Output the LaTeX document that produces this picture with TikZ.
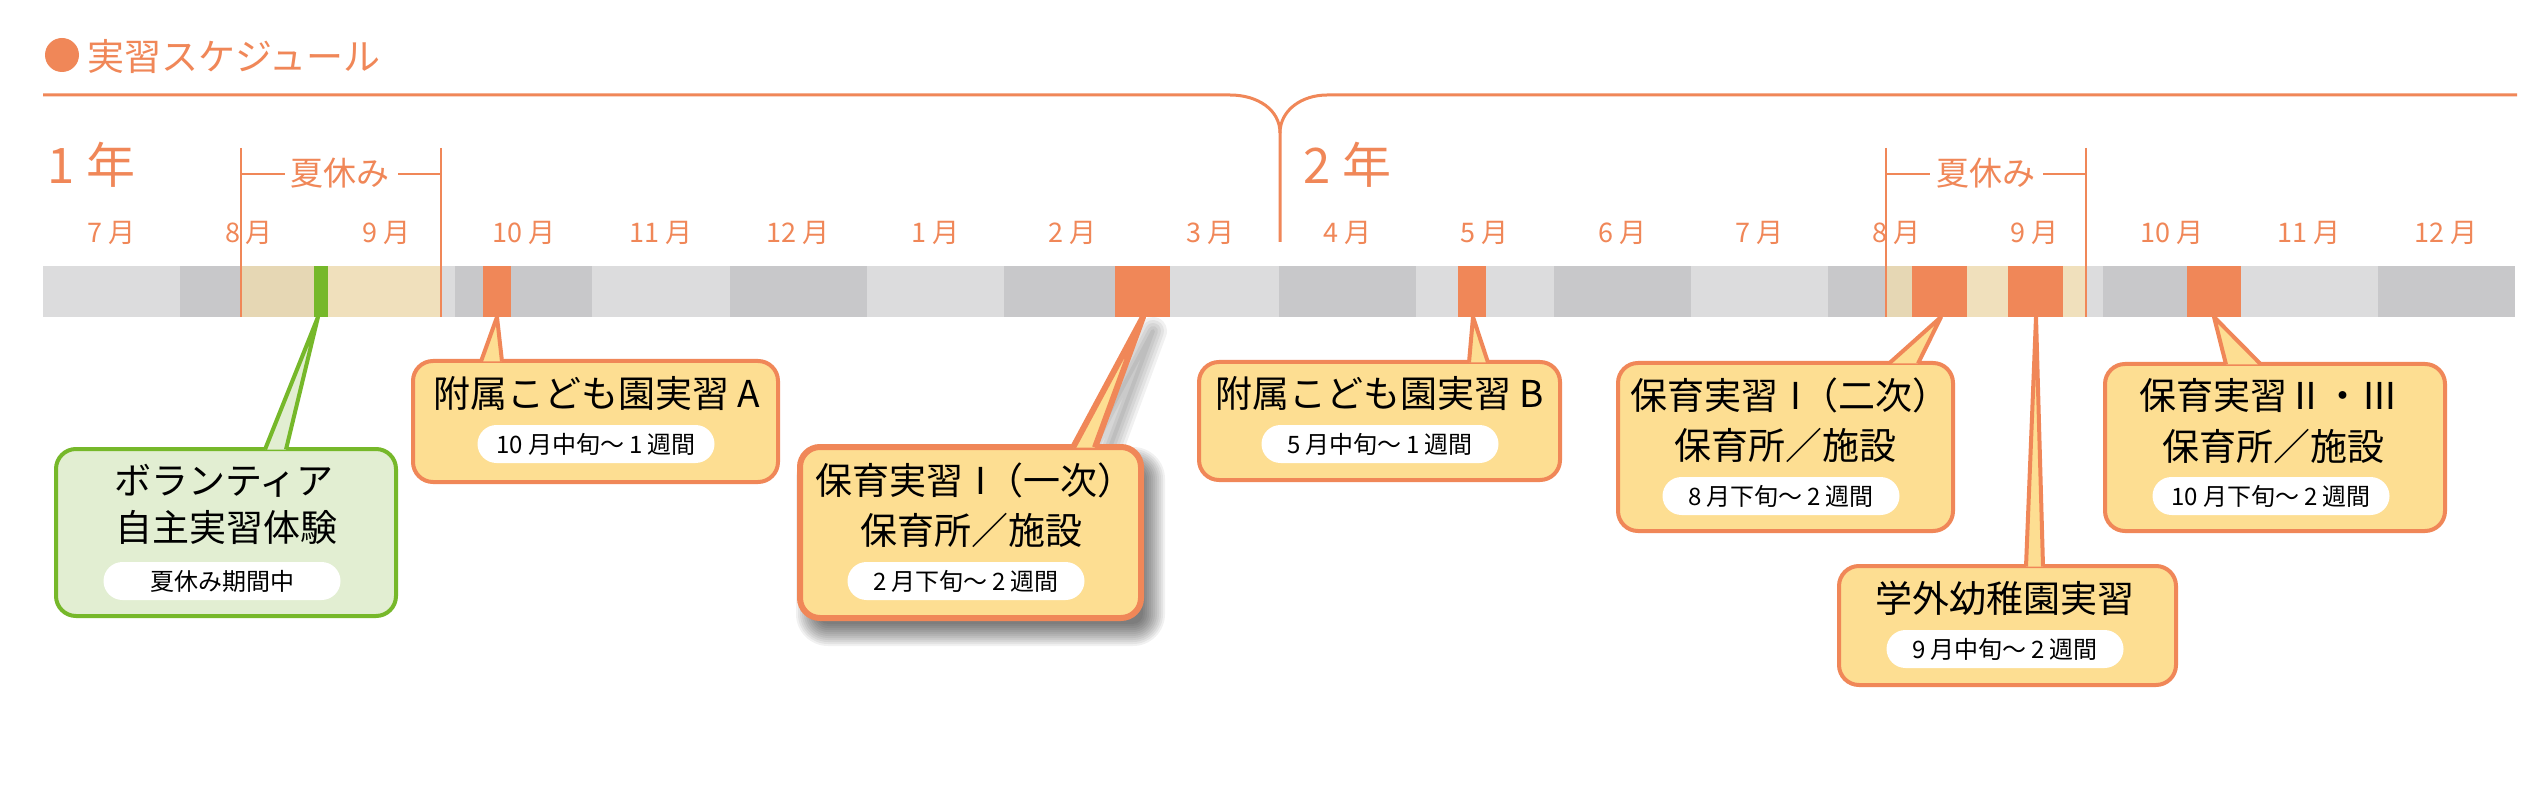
\documentclass[tikz,border=0pt]{standalone}
\usepackage{fontspec}
\setmainfont{Noto Sans CJK JP}
\definecolor{ora}{RGB}{240,135,88}
\definecolor{yel}{RGB}{253,222,146}
\definecolor{grn}{RGB}{118,184,42}
\definecolor{grnf}{RGB}{226,238,210}
\definecolor{gl}{RGB}{220,220,221}
\definecolor{gd}{RGB}{200,200,202}
\definecolor{tand}{RGB}{230,215,180}
\definecolor{tanl}{RGB}{240,224,188}
\newcommand\fs[1]{\fontsize{#1pt}{#1pt}\selectfont}
\newcommand\gp{\hspace{5pt}}
% #1 style prefix, #2 name, #3 L, #4 T, #5 R, #6 B, #7 tip x, #8 base left x, #9 base right x
\newcommand\callout[9]{%
  \node[#1box, minimum width={#5-#3-4}, minimum height={#6-#4-4}] (#2) at ({(#3+#5)/2},{(#4+#6)/2}) {};
  \coordinate (#2tip) at (#7,317);
  \coordinate (#2bl) at ({#8},{#4+2.5});
  \coordinate (#2br) at ({#9},{#4+2.5});
  \filldraw[#1tail] (#2bl) -- (#2tip) -- (#2br);
}
\begin{document}
\begin{tikzpicture}[x=1pt,y=-1pt,
  lbl/.style={text=ora, inner sep=0, font=\fs{27}},
  yrlbl/.style={text=ora, inner sep=0, anchor=west, font=\fs{49}},
  obox/.style={draw=ora, fill=yel, line width=4, rounded corners=20, inner sep=0},
  otail/.style={draw=ora, fill=yel, line width=4, line join=round},
  tbox/.style={draw=ora, fill=yel, line width=6, rounded corners=20, inner sep=0},
  ttail/.style={draw=ora, fill=yel, line width=6, line join=round},
  gbox/.style={draw=grn, fill=grnf, line width=4, rounded corners=20, inner sep=0},
  gtail/.style={draw=grn, fill=grnf, line width=4, line join=round},
  pill/.style={fill=white, rounded corners=19, minimum width=237, minimum height=38, inner sep=0, font=\fs{24}},
  big/.style={inner sep=0, font=\fs{37}},
  oline/.style={draw=ora, line width=3},
  thin/.style={draw=ora, line width=1.5},
  shdlayer/.style={fill=black, opacity=0.055},
  shdtail/.style={draw=black, opacity=0.055, line join=round},
]
\useasboundingbox (0,0) rectangle (2540,799);
\fill[white] (0,0) rectangle (2540,799);

% title
\node[circle, fill=ora, minimum size=34, inner sep=0] (dot) at (62,55) {};
\node[anchor=west, text=ora, inner sep=0, font=\fs{37}] (title) at (87,56) {実習スケジュール};

% year line with divider
\coordinate (l0) at (43,95);
\coordinate (l1) at (1230,95);
\coordinate (mid) at (1280,133);
\coordinate (midb) at (1280,242);
\coordinate (r1) at (1327,95);
\coordinate (r0) at (2517,95);
\draw[oline] (l0) -- (l1) .. controls (1258,95) and (1280,110) .. (mid) -- (midb);
\draw[oline] (mid) .. controls (1280,110) and (1302,95) .. (r1) -- (r0);
\node[yrlbl] (y1) at (47,165) {1\hspace{12pt}年};
\node[yrlbl] (y2) at (1303,165) {2\hspace{12pt}年};

% bar
\foreach \i in {0,...,17} {
  \pgfmathsetmacro\xa{43+137.33*\i}
  \pgfmathsetmacro\xb{43+137.33*(\i+1)}
  \pgfmathtruncatemacro\odd{mod(\i,2)}
  \ifnum\odd=0 \fill[gl] (\xa,266) rectangle (\xb,317); \else \fill[gd] (\xa,266) rectangle (\xb,317); \fi
}
\foreach \m [count=\i from 0] in {7,8,9,10,11,12,1,2,3,4,5,6,7,8,9,10,11,12}
  \node[lbl] (m\i) at ({43+137.33*(\i+0.5)},233) {\m\hspace{6pt}月};

% summer overlays
\fill[tand] (241,266) rectangle (317.7,317);
\fill[tanl] (317.7,266) rectangle (441,317);
\fill[tand] (1886,266) rectangle (1966,317);
\fill[tanl] (1966,266) rectangle (2086,317);

% markers
\fill[grn] (314,266) rectangle (328,317);
\fill[ora] (483,266) rectangle (511,317);
\fill[ora] (1115,266) rectangle (1170,317);
\fill[ora] (1458,266) rectangle (1486,317);
\fill[ora] (1912,266) rectangle (1967,317);
\fill[ora] (2008,266) rectangle (2063,317);
\fill[ora] (2187,266) rectangle (2241,317);

% summer brackets
\node[text=ora, inner sep=0, font=\fs{33}] (s1) at (340,173) {夏休み};
\draw[thin] (241,148) -- (241,317);
\draw[thin] (441,148) -- (441,317);
\draw[thin] (241,174) -- (285,174);
\draw[thin] (398,174) -- (441,174);
\node[text=ora, inner sep=0, font=\fs{33}] (s2) at (1986,173) {夏休み};
\draw[thin] (1886,148) -- (1886,317);
\draw[thin] (2086,148) -- (2086,317);
\draw[thin] (1886,174) -- (1930,174);
\draw[thin] (2043,174) -- (2086,174);

% soft shadow for the highlighted box
\foreach \d in {-10,-8,...,12}
  \fill[shdlayer, rounded corners={20+\d}] ({808-\d},{459-\d}) rectangle ({1153+\d},{634+\d});
\foreach \w in {4,10,16,22,28}
  \draw[shdtail, line width=\w] (1083,461) -- (1153,331) -- (1105,461) -- cycle;

% callouts
\callout{g}{vol}{54}{447}{398}{618}{318}{265}{286}
\callout{o}{fa}{411}{359}{780}{484}{497}{481}{502}
\callout{t}{h1}{798}{445}{1143}{620}{1143}{1073}{1095}
\callout{o}{fb}{1197}{360}{1562}{482}{1473}{1469}{1488}
\callout{o}{h2}{1616}{361}{1955}{533}{1941}{1889}{1918}
\callout{o}{gk}{1837}{564}{2178}{687}{2036}{2026}{2043}
\callout{o}{h3}{2103}{362}{2447}{533}{2214}{2226}{2261}

% texts
\node[big] (vol1) at (224,481) {ボランティア};
\node[big] (vol2) at (226,527) {自主実習体験};
\node[pill] (volp) at (222,581) {夏休み期間中};

\node[big] (fa1) at (597,393) {附属こども園実習 A};
\node[pill] (fap) at (596,444) {10\gp 月中旬〜\gp 1\gp 週間};

\node[big] (h11) at (975,480) {保育実習\hspace{12pt}I（一次）};
\node[big] (h12) at (971,530) {保育所／施設};
\node[pill] (h1p) at (966,581) {2\gp 月下旬〜\gp 2\gp 週間};

\node[big] (fb1) at (1380,393) {附属こども園実習 B};
\node[pill] (fbp) at (1380,444) {5\gp 月中旬〜\gp 1\gp 週間};

\node[big] (h21) at (1790,395) {保育実習\hspace{12pt}I（二次）};
\node[big] (h22) at (1785,445) {保育所／施設};
\node[pill] (h2p) at (1781,496) {8\gp 月下旬〜\gp 2\gp 週間};

\node[big] (gk1) at (2005,598) {学外幼稚園実習};
\node[pill] (gkp) at (2005,649) {9\gp 月中旬〜\gp 2\gp 週間};

\node[big] (h31) at (2269,395) {保育実習Ⅱ・Ⅲ};
\node[big] (h32) at (2273,446) {保育所／施設};
\node[pill] (h3p) at (2271,496) {10\gp 月下旬〜\gp 2\gp 週間};
\end{tikzpicture}
\end{document}
